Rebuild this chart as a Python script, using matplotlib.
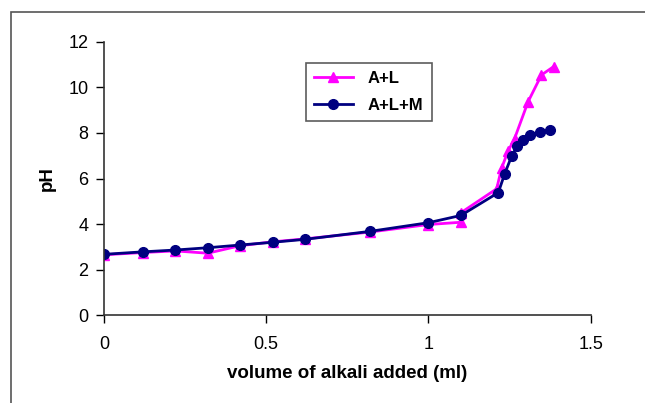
import matplotlib
matplotlib.use("Agg")
import matplotlib.pyplot as plt
from matplotlib.patches import Rectangle

plt.rcParams['font.family'] = ['Liberation Sans', 'DejaVu Sans']

# A+L series (pink triangles)
al_x = [0, 0.12, 0.22, 0.32, 0.42, 0.52, 0.62, 0.82, 1.0, 1.1, 1.1, 1.21, 1.225, 1.245, 1.265, 1.307, 1.348, 1.386]
al_y = [2.65, 2.75, 2.82, 2.72, 3.05, 3.22, 3.35, 3.65, 3.98, 4.08, 4.5, 5.55, 6.45, 7.2, 7.75, 9.38, 10.55, 10.92]

# A+L+M series (navy circles)
alm_x = [0, 0.12, 0.22, 0.32, 0.42, 0.52, 0.62, 0.82, 1.0, 1.1, 1.215, 1.235, 1.256, 1.274, 1.291, 1.314, 1.343, 1.373]
alm_y = [2.67, 2.78, 2.86, 2.96, 3.08, 3.2, 3.33, 3.68, 4.06, 4.38, 5.38, 6.22, 6.98, 7.45, 7.7, 7.9, 8.03, 8.13]

xticks = [0, 0.5, 1, 1.5]
xticklabels = ['0', '0.5', '1', '1.5']
yticks = [0, 2, 4, 6, 8, 10, 12]

fig = plt.figure(figsize=(6.45, 4.03), dpi=100)
ax = fig.add_axes([0.161, 0.218, 0.755, 0.678])

ax.plot(al_x, al_y, color='#FF00FF', marker='^', markersize=6.5, linewidth=2, label='A+L')
ax.plot(alm_x, alm_y, color='#000080', marker='o', markersize=7, linewidth=2, label='A+L+M')

ax.set_xlim(0, 1.5)
ax.set_ylim(0, 12)
ax.set_xticks(xticks)
ax.set_xticklabels(xticklabels)
ax.set_yticks(yticks)
ax.tick_params(labelsize=13, direction='out', length=6, width=1, pad=9)
ax.tick_params(axis='y', pad=5)
for s in ['top', 'right']:
    ax.spines[s].set_visible(False)
for s in ['left', 'bottom']:
    ax.spines[s].set_color('#333333')
    ax.spines[s].set_linewidth(1.2)

ax.set_xlabel('volume of alkali added (ml)', fontsize=13.5, fontweight='bold', labelpad=9)
ax.set_ylabel('pH', fontsize=13.5, fontweight='bold', labelpad=9)

leg = ax.legend(loc='upper left', bbox_to_anchor=(0.398, 0.955),
                prop={'weight': 'bold', 'size': 12}, frameon=True, fancybox=False,
                edgecolor='#333333', handlelength=2.3, handletextpad=0.9,
                borderpad=0.5, labelspacing=0.7)
leg.get_frame().set_linewidth(1.2)

# outer chart frame
fig.patches.append(Rectangle((11 / 645, -0.1), 1.2, (403 - 12) / 403 + 0.1,
                             transform=fig.transFigure, fill=False,
                             edgecolor='#555555', linewidth=1.2))

fig.savefig('out.png', dpi=100)
